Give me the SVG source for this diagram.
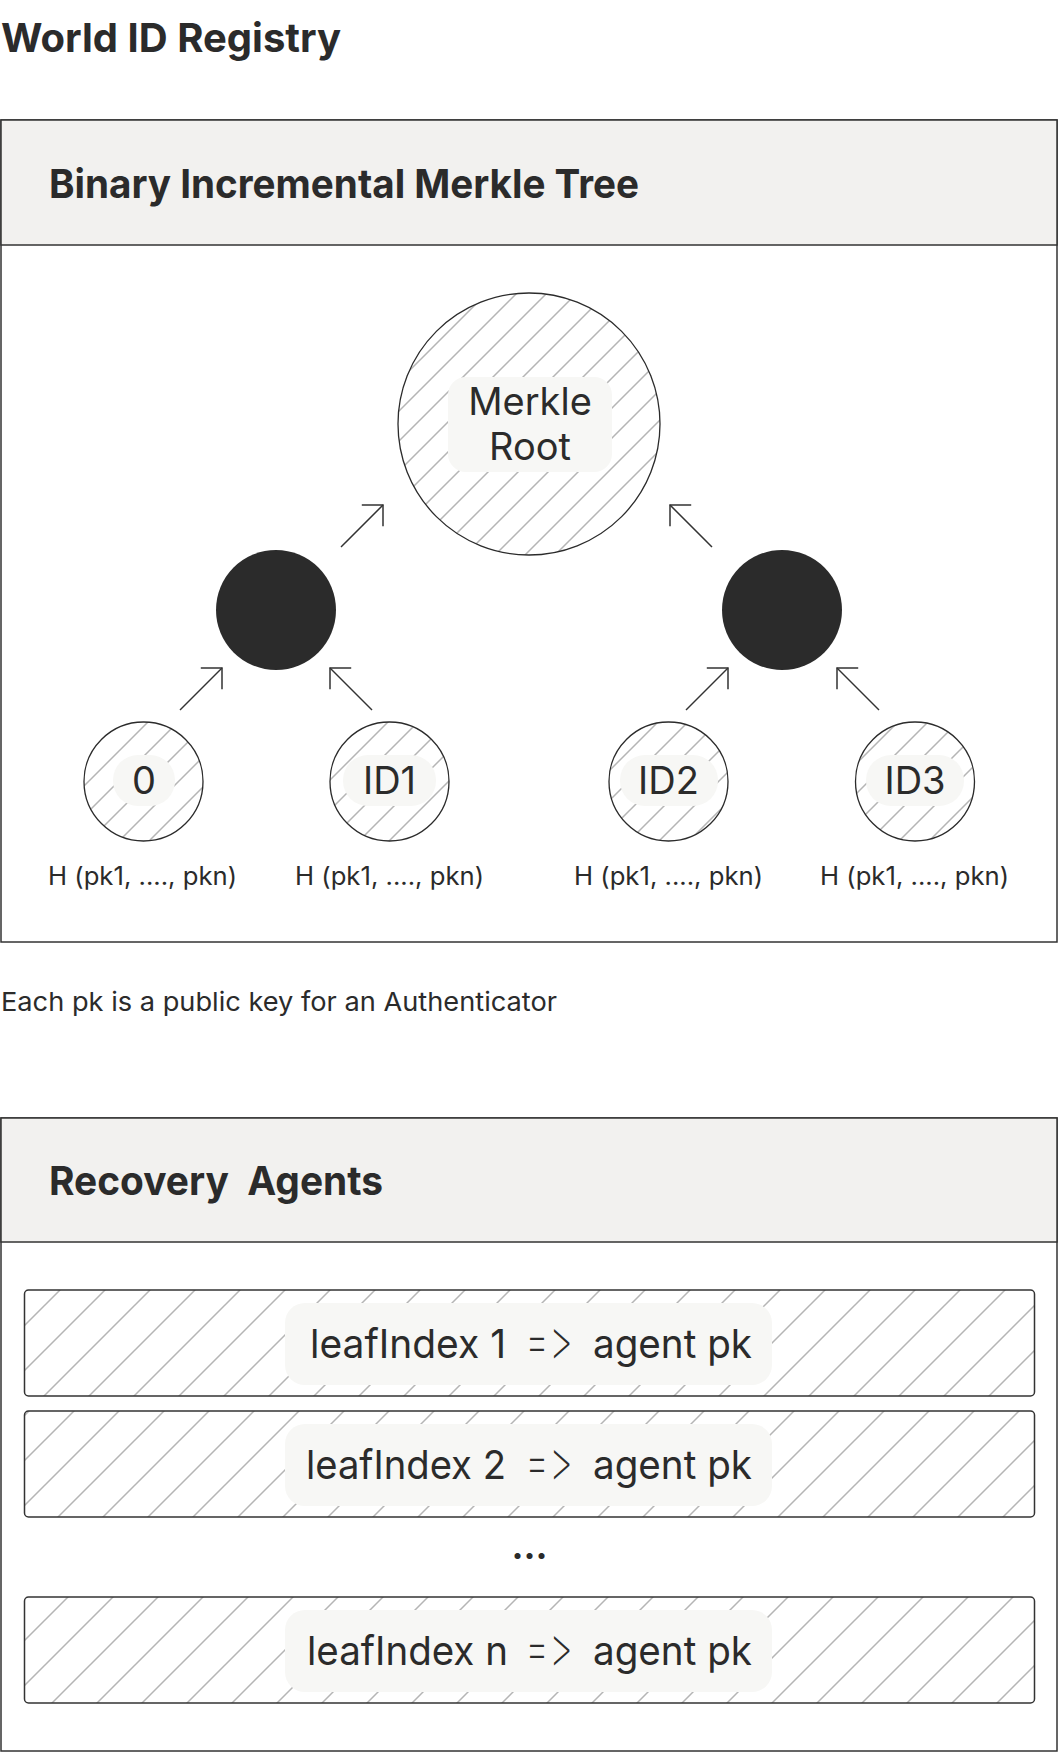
<svg xmlns="http://www.w3.org/2000/svg" width="1059" height="1752" viewBox="0 0 1059 1752">
<style>
.t{font-family:Inter,"Liberation Sans",sans-serif;fill:#2b2b2b}
.b{font-weight:700}
.ar{font-weight:200;font-feature-settings:"calt" 0,"liga" 0;font-variant-ligatures:none}
.box{fill:#fff;stroke:#333;stroke-width:1.5}
.hdr{fill:#f2f1ef;stroke:#333;stroke-width:1.5}
.lbl{fill:#f7f7f5}
.leaf{stroke:#2b2b2b;stroke-width:1.3}
.row{stroke:#333;stroke-width:1.5}
.arr{stroke:#333;stroke-width:1.5;fill:none;marker-end:url(#ah)}
</style>
<defs>
<pattern id="hc" patternUnits="userSpaceOnUse" width="30" height="30">
<rect width="30" height="30" fill="#fff"/>
<path d="M-2,2 l4,-4 M0,30 l30,-30 M28,32 l4,-4" stroke="#b5b5b5" stroke-width="1.5"/>
</pattern>
<pattern id="hr" patternUnits="userSpaceOnUse" width="45" height="45">
<rect width="45" height="45" fill="#fff"/>
<path d="M-2,2 l4,-4 M0,45 l45,-45 M43,47 l4,-4" stroke="#b5b5b5" stroke-width="1.5"/>
</pattern>
<marker id="ah" markerUnits="userSpaceOnUse" markerWidth="40" markerHeight="40" refX="20" refY="20" orient="auto" viewBox="0 0 40 40">
<path d="M5,5 L20,20 L5,35" fill="none" stroke="#333" stroke-width="1.5"/>
</marker>
</defs>
<rect width="1059" height="1752" fill="#fff"/>
<text class="t b" x="1" y="52" font-size="40" textLength="340" lengthAdjust="spacingAndGlyphs">World ID Registry</text>

<g id="merkle-section">
<rect class="box" x="1" y="120" width="1056" height="822"/>
<rect class="hdr" x="1" y="120" width="1056" height="125"/>
<text class="t b" x="49" y="198" font-size="40" textLength="590" lengthAdjust="spacingAndGlyphs">Binary Incremental Merkle Tree</text>
</g>

<g id="merkle-root">
<circle class="leaf" cx="529" cy="424" r="131" fill="url(#hc)"/>
<rect class="lbl" x="448" y="377" width="164" height="95" rx="18"/>
<text class="t" x="530" y="415" font-size="38" text-anchor="middle">Merkle</text>
<text class="t" x="530" y="460" font-size="38" text-anchor="middle">Root</text>
</g>
<g id="node-left"><circle cx="276" cy="610" r="60" fill="#2b2b2b"/></g>
<g id="node-right"><circle cx="782" cy="610" r="60" fill="#2b2b2b"/></g>

<g id="leaf-0">
<circle class="leaf" cx="143.5" cy="781.5" r="59.5" fill="url(#hc)"/>
<rect class="lbl" x="113" y="755" width="62" height="51" rx="25"/>
<text class="t" x="144" y="794" font-size="38" text-anchor="middle">0</text>
<text class="t" x="48" y="885" font-size="25" textLength="189" lengthAdjust="spacingAndGlyphs">H (pk1, ...., pkn)</text>
</g>
<g id="leaf-id1">
<circle class="leaf" cx="389.5" cy="781.5" r="59.5" fill="url(#hc)"/>
<rect class="lbl" x="343" y="755" width="93" height="51" rx="25"/>
<text class="t" x="389.5" y="794" font-size="38" text-anchor="middle">ID1</text>
<text class="t" x="295" y="885" font-size="25" textLength="189" lengthAdjust="spacingAndGlyphs">H (pk1, ...., pkn)</text>
</g>
<g id="leaf-id2">
<circle class="leaf" cx="668.5" cy="781.5" r="59.5" fill="url(#hc)"/>
<rect class="lbl" x="620" y="755" width="98" height="51" rx="25"/>
<text class="t" x="668.5" y="794" font-size="38" text-anchor="middle">ID2</text>
<text class="t" x="574" y="885" font-size="25" textLength="189" lengthAdjust="spacingAndGlyphs">H (pk1, ...., pkn)</text>
</g>
<g id="leaf-id3">
<circle class="leaf" cx="915" cy="781.5" r="59.5" fill="url(#hc)"/>
<rect class="lbl" x="866" y="755" width="98" height="51" rx="25"/>
<text class="t" x="915" y="794" font-size="38" text-anchor="middle">ID3</text>
<text class="t" x="820" y="885" font-size="25" textLength="189" lengthAdjust="spacingAndGlyphs">H (pk1, ...., pkn)</text>
</g>

<g id="connectors">
<line class="arr" x1="180" y1="710" x2="222" y2="668"/>
<line class="arr" x1="372" y1="710" x2="330" y2="668"/>
<line class="arr" x1="341" y1="547" x2="383" y2="505"/>
<line class="arr" x1="712" y1="547" x2="670" y2="505"/>
<line class="arr" x1="686" y1="710" x2="728" y2="668"/>
<line class="arr" x1="879" y1="710" x2="837" y2="668"/>
</g>

<text class="t" x="1" y="1011" font-size="26" textLength="556" lengthAdjust="spacingAndGlyphs">Each pk is a public key for an Authenticator</text>

<g id="recovery-section">
<rect class="box" x="1" y="1118" width="1056" height="633"/>
<rect class="hdr" x="1" y="1118" width="1056" height="124"/>
<text class="t b" x="49" y="1195" font-size="40" textLength="334" lengthAdjust="spacingAndGlyphs" xml:space="preserve">Recovery  Agents</text>
</g>

<g id="row-1">
<rect class="row" x="24.5" y="1290" width="1010" height="106" rx="4" fill="url(#hr)"/>
<rect class="lbl" x="285" y="1303" width="487" height="82" rx="20"/>
<text class="t" x="310" y="1358" font-size="40" textLength="196" lengthAdjust="spacingAndGlyphs">leafIndex 1</text>
<text class="t ar" x="525" y="1360" font-size="56" textLength="48" lengthAdjust="spacingAndGlyphs">=&gt;</text>
<text class="t" x="593" y="1358" font-size="40" textLength="159" lengthAdjust="spacingAndGlyphs">agent pk</text>
</g>
<g id="row-2">
<rect class="row" x="24.5" y="1411" width="1010" height="106" rx="4" fill="url(#hr)"/>
<rect class="lbl" x="285" y="1424" width="487" height="82" rx="20"/>
<text class="t" x="306" y="1479" font-size="40" textLength="200" lengthAdjust="spacingAndGlyphs">leafIndex 2</text>
<text class="t ar" x="525" y="1481" font-size="56" textLength="48" lengthAdjust="spacingAndGlyphs">=&gt;</text>
<text class="t" x="593" y="1479" font-size="40" textLength="159" lengthAdjust="spacingAndGlyphs">agent pk</text>
</g>
<text class="t b" x="529.5" y="1559" font-size="36" text-anchor="middle">...</text>
<g id="row-n">
<rect class="row" x="24.5" y="1597" width="1010" height="106" rx="4" fill="url(#hr)"/>
<rect class="lbl" x="285" y="1610" width="487" height="82" rx="20"/>
<text class="t" x="307" y="1665" font-size="40" textLength="201" lengthAdjust="spacingAndGlyphs">leafIndex n</text>
<text class="t ar" x="525" y="1667" font-size="56" textLength="48" lengthAdjust="spacingAndGlyphs">=&gt;</text>
<text class="t" x="593" y="1665" font-size="40" textLength="159" lengthAdjust="spacingAndGlyphs">agent pk</text>
</g>
</svg>
